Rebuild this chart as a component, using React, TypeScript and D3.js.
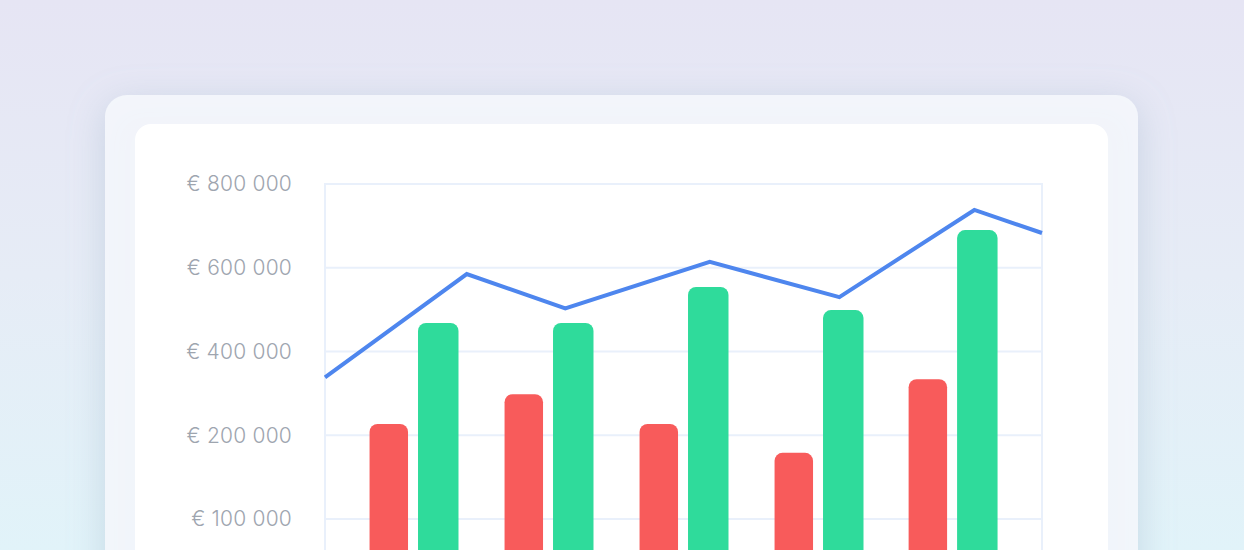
import React, { useEffect, useRef } from 'react';
import * as d3 from 'd3';

// periods on a continuous axis (1 unit = one month group)
const periods = [0.652, 1.652, 2.652, 3.652, 4.645];
const expenses = [227000, 298000, 227000, 158000, 334000];
const revenue = [468000, 468000, 554000, 499000, 690000];

// trend line
const trendX = [0, 1.05, 1.78, 2.85, 3.81, 4.81, 5.311];
const trendY = [338000, 585000, 503000, 614000, 530000, 738000, 683000];

const tickValues = [0, 200000, 400000, 600000, 800000];
const tickLabels = ['€ 100 000', '€ 200 000', '€ 400 000', '€ 600 000', '€ 800 000'];

const W = 1244;
const H = 550;

export default function App() {
  const svgRef = useRef<SVGSVGElement>(null);

  useEffect(() => {
    if (!svgRef.current) return;
    const svg = d3.select(svgRef.current);
    svg.selectAll('*').remove();

    const defs = svg.append('defs');
    const bg = defs.append('linearGradient')
      .attr('id', 'bg').attr('x1', 0).attr('y1', 0).attr('x2', 0).attr('y2', 1);
    bg.append('stop').attr('offset', '0%').attr('stop-color', '#e6e5f4');
    bg.append('stop').attr('offset', '50%').attr('stop-color', '#e6ecf6');
    bg.append('stop').attr('offset', '100%').attr('stop-color', '#e1f3f9');

    const shadow = defs.append('filter')
      .attr('id', 'shadow').attr('x', '-10%').attr('y', '-20%').attr('width', '120%').attr('height', '150%');
    shadow.append('feDropShadow')
      .attr('dx', 0).attr('dy', 8).attr('stdDeviation', 18)
      .attr('flood-color', '#8fa8c0').attr('flood-opacity', 0.4);

    svg.append('rect').attr('width', W).attr('height', H).attr('fill', 'url(#bg)');

    // outer frosted card
    svg.append('rect')
      .attr('x', 105).attr('y', 95).attr('width', 1033).attr('height', 520).attr('rx', 22)
      .attr('fill', '#f6f8fd').attr('fill-opacity', 0.88)
      .attr('filter', 'url(#shadow)');
    // inner white card
    svg.append('rect')
      .attr('x', 135).attr('y', 124).attr('width', 973).attr('height', 500).attr('rx', 16)
      .attr('fill', '#ffffff');

    const x = d3.scaleLinear().domain([0, 5.311]).range([325, 1042]);
    const y = d3.scaleLinear().domain([0, 800000]).range([519, 184]);

    const g = svg.append('g');

    // grid
    g.selectAll('.hgrid')
      .data(tickValues)
      .enter()
      .append('line')
      .attr('x1', x(0)).attr('x2', x(5.311))
      .attr('y1', d => y(d)).attr('y2', d => y(d))
      .attr('stroke', '#e9f0fb').attr('stroke-width', 2);

    g.selectAll('.vgrid')
      .data([0, 5.311])
      .enter()
      .append('line')
      .attr('x1', d => x(d)).attr('x2', d => x(d))
      .attr('y1', y(800000) - 1).attr('y2', H)
      .attr('stroke', '#e9f0fb').attr('stroke-width', 2);

    // y labels
    g.selectAll('.ylabel')
      .data(tickValues)
      .enter()
      .append('text')
      .attr('x', 292)
      .attr('y', d => y(d))
      .attr('dy', '0.35em')
      .attr('text-anchor', 'end')
      .attr('fill', '#9ea5af')
      .style('font-family', 'Inter, "Noto Sans", sans-serif')
      .style('font-weight', 300)
      .style('font-size', '21px')
      .style('letter-spacing', '0.2px')
      .text((d, i) => tickLabels[i]);

    const barW = x(0.285) - x(0);
    const gap = x(0.074) - x(0);
    const base = y(-100000);

    g.selectAll('.bar-red')
      .data(periods)
      .enter()
      .append('rect')
      .attr('x', d => x(d) - gap / 2 - barW)
      .attr('y', (d, i) => y(expenses[i]))
      .attr('width', barW)
      .attr('height', (d, i) => base - y(expenses[i]))
      .attr('rx', 8)
      .attr('fill', '#f85b5b');

    g.selectAll('.bar-green')
      .data(periods)
      .enter()
      .append('rect')
      .attr('x', d => x(d) + gap / 2)
      .attr('y', (d, i) => y(revenue[i]))
      .attr('width', barW + 2)
      .attr('height', (d, i) => base - y(revenue[i]))
      .attr('rx', 8)
      .attr('fill', '#2fdb9b');

    const line = d3.line<number>()
      .x((d, i) => x(trendX[i]))
      .y(d => y(d));

    g.append('path')
      .datum(trendY)
      .attr('d', line)
      .attr('fill', 'none')
      .attr('stroke', '#4e86ee')
      .attr('stroke-width', 4)
      .attr('stroke-linejoin', 'miter');
  }, []);

  return (
    <svg
      ref={svgRef}
      width={W}
      height={H}
      style={{ position: 'absolute', left: 0, top: 0, display: 'block' }}
    />
  );
}
